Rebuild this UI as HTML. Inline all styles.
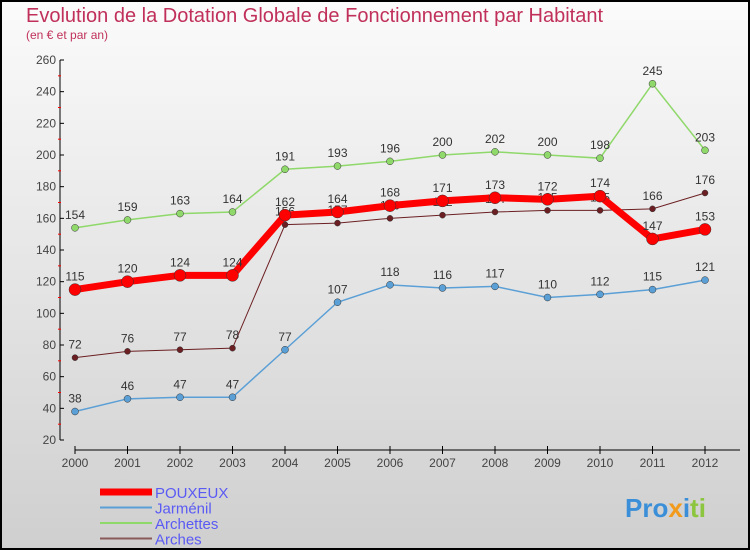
<!DOCTYPE html>
<html><head><meta charset="utf-8"><style>
body{margin:0}
#c{width:750px;height:550px;position:relative;overflow:hidden;font-family:"Liberation Sans",sans-serif}
</style></head><body>
<div id="c">
<svg id="s" width="750" height="550">
<defs><linearGradient id="bg" x1="0" y1="0" x2="0" y2="1"><stop offset="0" stop-color="#fbfbfb"/><stop offset="1" stop-color="#cfcfcf"/></linearGradient></defs>
<rect x="1" y="1" width="748" height="548" fill="url(#bg)" stroke="#000" stroke-width="2"/>
<text x="26" y="22" font-size="20" fill="#c0305a">Evolution de la Dotation Globale de Fonctionnement par Habitant</text>
<text x="26" y="39" font-size="12" fill="#c0305a">(en € et par an)</text>
<g id="g"></g>
<text x="625" y="517" font-size="26" font-weight="bold" fill="#3b8fd8">Pro<tspan fill="#f29a1b">x</tspan><tspan fill="#3b8fd8">i</tspan><tspan fill="#8cc63f">ti</tspan></text>
</svg>
</div>
<script>
const years=["2000","2001","2002","2003","2004","2005","2006","2007","2008","2009","2010","2011","2012"];
const pouxeux=[115,120,124,124,162,164,168,171,173,172,174,147,153];
const jarmenil=[38,46,47,47,77,107,118,116,117,110,112,115,121];
const archettes=[154,159,163,164,191,193,196,200,202,200,198,245,203];
const arches=[72,76,77,78,156,157,160,162,164,165,165,166,176];
const yTicks=[20,40,60,80,100,120,140,160,180,200,220,240,260];
const NS="http://www.w3.org/2000/svg";
const g=document.getElementById('g');
const X=i=>75+i*52.5;
const Y=v=>440-(v-20)*380/240;
function mk(t,a,p){const e=document.createElementNS(NS,t);for(const k in a)e.setAttribute(k,a[k]);(p||g).appendChild(e);return e;}
let e=mk('line',{x1:60,y1:60,x2:60,y2:440,stroke:'#000'});

e=mk('line',{x1:75,y1:450,x2:740,y2:450,stroke:'#000'});

yTicks.forEach((v,i)=>{
  mk('line',{x1:60,y1:Y(v),x2:64,y2:Y(v),stroke:'#000'});
  if(i<yTicks.length-1)mk('line',{x1:58,y1:Y(v+10),x2:61,y2:Y(v+10),stroke:'#f00'});
  const t=mk('text',{x:56,y:Y(v)+4,'font-size':12,fill:'#444','text-anchor':'end'});t.textContent=v;
  
});
years.forEach((y,i)=>{
  mk('line',{x1:X(i),y1:446,x2:X(i),y2:454,stroke:'#000'});
  const t=mk('text',{x:X(i),y:467,'font-size':12,fill:'#444','text-anchor':'middle'});t.textContent=y;
  
});
const series=[
 {n:'arches',d:arches,c:'#6b1f22',w:1,r:3,lab:true},
 {n:'jarmenil',d:jarmenil,c:'#5a9fd6',w:1.5,r:3.5,lab:true},
 {n:'archettes',d:archettes,c:'#8fd86a',w:1.5,r:3.5,lab:true},
 {n:'pouxeux',d:pouxeux,c:'#f00',w:7,r:6,lab:true}];
series.forEach(s=>{
  const grp=mk('g',{});
  mk('polyline',{points:s.d.map((v,i)=>X(i)+','+Y(v)).join(' '),fill:'none',stroke:s.c,'stroke-width':s.w},grp);
  s.d.forEach((v,i)=>{
    const p=mk('circle',{cx:X(i),cy:Y(v),r:s.r,fill:s.c,stroke:'#333','stroke-width':0.5},grp);
    
    const t=mk('text',{x:X(i),y:Y(v)-9,'font-size':12,fill:'#333','text-anchor':'middle'},grp);t.textContent=v;
    
  });
});
const leg=[['POUXEUX','#f00',7],['Jarménil','#5a9fd6',2],['Archettes','#8fd86a',2],['Arches','#8a5a5a',2]];
leg.forEach((l,i)=>{
  const y=492+i*15.5;
  const lg=mk('g',{});
  mk('line',{x1:100,y1:y,x2:152,y2:y,stroke:l[1],'stroke-width':l[2]},lg);
  const t=mk('text',{x:155,y:y+6,'font-size':15,fill:'#5a5af5'},lg);t.textContent=l[0];
});
</script>
</body></html>
